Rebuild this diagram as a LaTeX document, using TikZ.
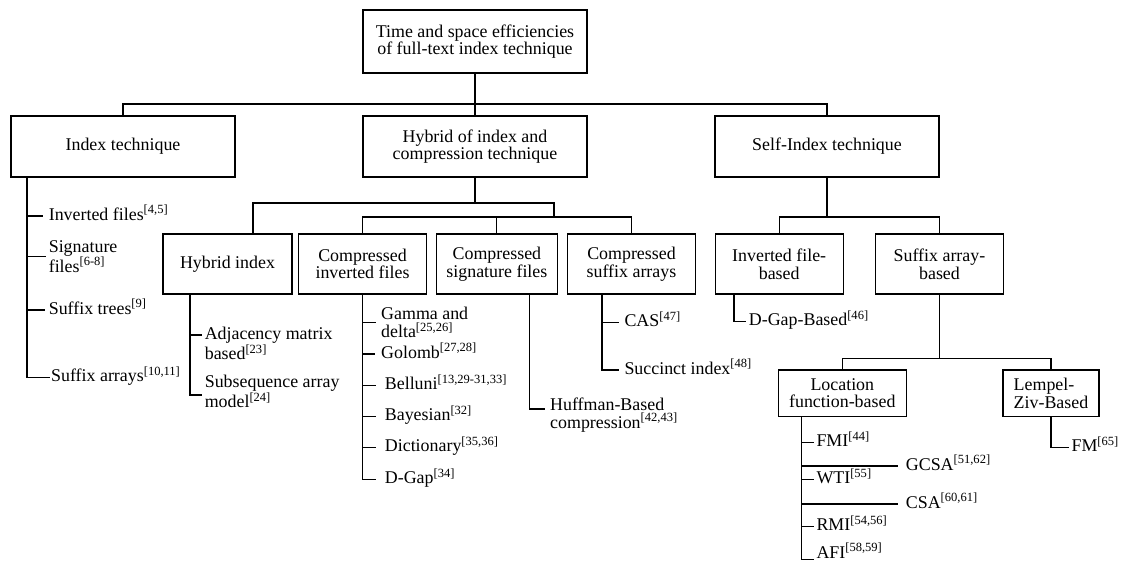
\documentclass[tikz,border=0pt]{standalone}
\usepackage{fontspec}
\setmainfont{Liberation Serif}
\newcommand\fsz{\fontsize{17.9}{17.7}\selectfont}
\newcommand\rfc[1]{\textsuperscript{[#1]}}
\begin{document}
\begin{tikzpicture}[x=1pt,y=-1pt,
  box/.style={draw, line width=1.1pt, inner sep=0pt, align=center, font=\fsz},
  leaf/.style={inner xsep=3pt, inner ysep=0pt, align=left, font=\fsz, anchor=west},
  one/.style={text height=12pt, text depth=4pt},
  conn/.style={line width=1.1pt}]
\fill[white] (0,0) rectangle (1121,562);
\useasboundingbox (0,0) rectangle (1121,562);
% boxes
\node[box, minimum width=224pt, minimum height=63pt] (top) at (475,41.5) {Time and space efficiencies\\of full-text index technique};
\node[box, minimum width=224pt, minimum height=61pt] (idx) at (123,146.5) {Index technique};
\node[box, minimum width=224pt, minimum height=61pt] (hyb) at (475,146.5) {Hybrid of index and\\compression technique};
\node[box, minimum width=224pt, minimum height=61pt] (self) at (827,146.5) {Self-Index technique};
\node[box, minimum width=129pt, minimum height=60pt] (hi) at (227.5,264) {Hybrid index};
\node[box, minimum width=128.4pt, minimum height=60pt] (cif) at (362.5,264) {Compressed\\inverted files};
\node[box, minimum width=121.7pt, minimum height=60pt] (csf) at (496.9,264) {Compressed\\signature files};
\node[box, minimum width=128.4pt, minimum height=60pt] (csa) at (631.5,264) {Compressed\\suffix arrays};
\node[box, minimum width=128.3pt, minimum height=60pt] (ifb) at (779.2,264) {Inverted file-\\based};
\node[box, minimum width=127.6pt, minimum height=60pt] (sab) at (939.5,264) {Suffix array-\\based};
\node[box, minimum width=128.2pt, minimum height=46.7pt] (lfb) at (842.3,393.3) {Location\\function-based};
\node[box, minimum width=96pt, minimum height=46.7pt, align=left] (lzb) at (1051,393.3) {Lempel-\\Ziv-Based};
% level connectors
\coordinate (r1) at (0,104);
\coordinate (r2) at (0,203);
\coordinate (r3) at (0,217);
\coordinate (r4) at (0,358.5);
\coordinate (jA) at (554,217);
\draw[conn] (top.south) -- (top.south |- r1);
\draw[conn] (idx.north) |- (self.north |- r1) -- (self.north);
\draw[conn] (hyb.north) -- (hyb.north |- r1);
\draw[conn] (hyb.south) -- (hyb.south |- r2);
\coordinate (hiN) at ([xshift=25.5pt]hi.north);
\draw[conn] (hiN) |- (jA |- r2) -- (jA);
\draw[conn] (cif.north) |- (csa.north |- r3) -- (csa.north);
\draw[conn] (csf.north) -- (csf.north |- r3);
\draw[conn] (self.south) -- (self.south |- r3);
\draw[conn] (ifb.north) |- (sab.north |- r3) -- (sab.north);
\draw[conn] (sab.south) -- (sab.south |- r4);
\draw[conn] (lfb.north) |- (lzb.north |- r4) -- (lzb.north);
% leaves: index technique
\node[leaf, one, inner xsep=5.6pt] (l1) at (43,216) {Inverted files\rfc{4,5}};
\node[leaf, inner xsep=2.6pt] (l2) at (46,256.5) {Signature\\files\rfc{6-8}};
\node[leaf, one, inner xsep=4pt] (l3) at (44.6,310) {Suffix trees\rfc{9}};
\node[leaf, one, inner xsep=1pt] (l4) at (50,377.5) {Suffix arrays\rfc{10,11}};
\coordinate (tI) at (27,0);
\draw[conn] (idx.south -| tI) |- (l4.west);
\draw[conn] (tI |- l1.west) -- (l1.west);
\draw[conn] (tI |- l2.west) -- (l2.west);
\draw[conn] (tI |- l3.west) -- (l3.west);
% hybrid index
\node[leaf, inner xsep=2.6pt] (h1) at (202,343.5) {Adjacency matrix\\based\rfc{23}};
\node[leaf, inner xsep=2.6pt] (h2) at (202,391.3) {Subsequence array\\model\rfc{24}};
\coordinate (tH) at (190,0);
\coordinate (h1t) at ([yshift=8.5pt]h1.west);
\coordinate (h2t) at ([yshift=-3.7pt]h2.west);
\draw[conn] (hi.south -| tH) |- (h2t);
\draw[conn] (tH |- h1t) -- (h1t);
% compressed inverted files
\node[leaf, inner xsep=5.3pt] (c1) at (375.7,322.5) {Gamma and\\delta\rfc{25,26}};
\node[leaf, one, inner xsep=6pt] (c2) at (375,354) {Golomb\rfc{27,28}};
\node[leaf, one, inner xsep=9pt] (c3) at (375.7,385.7) {Belluni\rfc{13,29-31,33}};
\node[leaf, one, inner xsep=9pt] (c4) at (375.7,416.7) {Bayesian\rfc{32}};
\node[leaf, one, inner xsep=9pt] (c5) at (375.7,447.7) {Dictionary\rfc{35,36}};
\node[leaf, one, inner xsep=9pt] (c6) at (375.7,479.3) {D-Gap\rfc{34}};
\draw[conn] (cif.south) |- (c6.west);
\draw[conn] (cif.south |- c1.west) -- (c1.west);
\draw[conn] (cif.south |- c2.west) -- (c2.west);
\draw[conn] (cif.south |- c3.west) -- (c3.west);
\draw[conn] (cif.south |- c4.west) -- (c4.west);
\draw[conn] (cif.south |- c5.west) -- (c5.west);
% compressed signature files
\node[leaf, inner xsep=5.4pt] (s1) at (544.6,415) {Huffman-Based\\compression\rfc{42,43}};
\coordinate (csfS) at ([xshift=32.6pt]csf.south);
\coordinate (s1t) at ([yshift=6pt]s1.west);
\draw[conn] (csfS) |- (s1t);
% compressed suffix arrays
\node[leaf, one, inner xsep=5.3pt] (a1) at (619,322.3) {CAS\rfc{47}};
\node[leaf, one, inner xsep=5.3pt] (a2) at (619,370) {Succinct index\rfc{48}};
\coordinate (tA) at (602,0);
\draw[conn] (csa.south -| tA) |- (a2.west);
\draw[conn] (tA |- a1.west) -- (a1.west);
% inverted file-based
\node[leaf, one, inner xsep=3pt] (i1) at (745.7,321.7) {D-Gap-Based\rfc{46}};
\coordinate (ifbS) at ([xshift=-45.2pt]ifb.south);
\draw[conn] (ifbS) |- (i1.west);
% lempel-ziv
\node[leaf, one, inner xsep=2.4pt] (z1) at (1069,447.7) {FM\rfc{65}};
\draw[conn] (lzb.south) |- (z1.west);
% location function-based
\node[leaf, one, inner xsep=2pt] (f1) at (814.3,442.3) {FMI\rfc{44}};
\node[leaf, one, inner xsep=8.2pt] (f2) at (897.5,466) {GCSA\rfc{51,62}};
\node[leaf, one, inner xsep=2pt] (f3) at (814.3,479.3) {WTI\rfc{55}};
\node[leaf, one, inner xsep=8.2pt] (f4) at (897.5,504) {CSA\rfc{60,61}};
\node[leaf, one, inner xsep=2pt] (f5) at (814.3,526.7) {RMI\rfc{54,56}};
\node[leaf, one, inner xsep=2pt] (f6) at (814.3,554) {AFI\rfc{58,59}};
\coordinate (tL) at (801.4,0);
\coordinate (f6t) at ([yshift=-5.3pt]f6.west);
\draw[conn] (lfb.south -| tL) |- (f6t);
\draw[conn] (tL |- f1.west) -- (f1.west);
\draw[conn] (tL |- f2.west) -- (f2.west);
\draw[conn] (tL |- f3.west) -- (f3.west);
\draw[conn] (tL |- f4.west) -- (f4.west);
\draw[conn] (tL |- f5.west) -- (f5.west);
\end{tikzpicture}
\end{document}
